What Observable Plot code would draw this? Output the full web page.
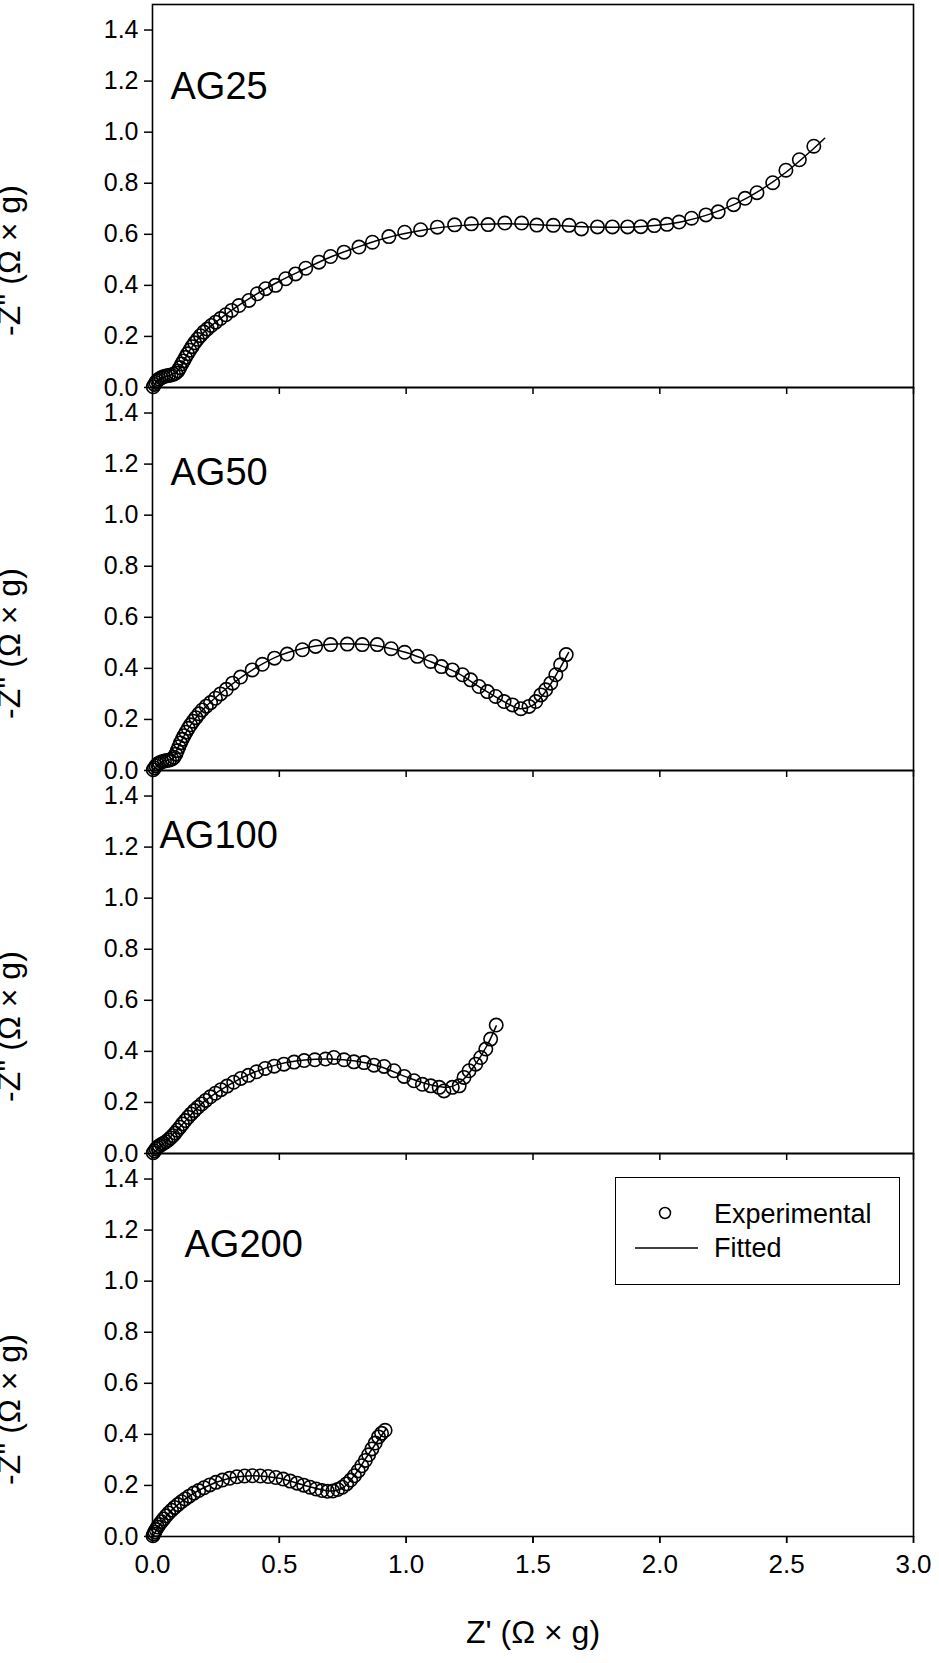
<!DOCTYPE html>
<html><head><meta charset="utf-8">
<script src="https://cdn.jsdelivr.net/npm/d3@7"></script>
<script src="https://cdn.jsdelivr.net/npm/@observablehq/plot@0.6"></script>
<style>
body{margin:0;background:#fff;}
#wrap{position:relative;width:939px;height:1663px;font-family:"Liberation Sans",Arial,sans-serif;}
#legend{position:absolute;left:615px;top:1177px;width:285px;height:108px;box-sizing:border-box;border:1.5px solid #000;background:#fff;}
#legend svg{position:absolute;left:0;top:0;}
</style></head><body><div id="wrap"></div>
<script>
const samples = ["AG25", "AG50", "AG100", "AG200"];
const xTicks = [0, 0.5, 1, 1.5, 2, 2.5, 3];
const yTicks = [0, 0.2, 0.4, 0.6, 0.8, 1.0, 1.2, 1.4];
const legendLabels = ["Experimental", "Fitted"];
const xTitle = "Z' (\u03A9 \u00D7 g)";
const yTitle = "-Z'' (\u03A9 \u00D7 g)";

const ag25Exp = [[0.003,0.003],[0.008,0.012],[0.013,0.020],[0.019,0.027],[0.026,0.033],[0.034,0.038],[0.043,0.042],[0.053,0.045],[0.063,0.047],[0.073,0.049],[0.083,0.052],[0.092,0.057],[0.100,0.065],[0.108,0.078],[0.115,0.092],[0.122,0.104],[0.130,0.118],[0.138,0.132],[0.147,0.146],[0.156,0.160],[0.166,0.175],[0.177,0.189],[0.189,0.203],[0.202,0.217],[0.216,0.229],[0.232,0.243],[0.249,0.256],[0.268,0.270],[0.289,0.285],[0.312,0.302],[0.341,0.321],[0.380,0.341],[0.413,0.367],[0.446,0.387],[0.485,0.400],[0.525,0.426],[0.564,0.445],[0.604,0.467],[0.656,0.491],[0.702,0.513],[0.755,0.530],[0.814,0.550],[0.867,0.569],[0.932,0.591],[0.994,0.608],[1.057,0.618],[1.123,0.628],[1.191,0.637],[1.257,0.641],[1.323,0.638],[1.389,0.644],[1.455,0.644],[1.515,0.636],[1.580,0.635],[1.642,0.635],[1.691,0.621],[1.754,0.629],[1.813,0.629],[1.873,0.629],[1.925,0.630],[1.978,0.634],[2.028,0.639],[2.076,0.648],[2.125,0.663],[2.182,0.676],[2.230,0.688],[2.291,0.716],[2.336,0.741],[2.383,0.763],[2.445,0.802],[2.497,0.851],[2.550,0.892],[2.607,0.945]];
const ag25Fit = [[0,0],[0.03,0.035],[0.07,0.048],[0.10,0.066],[0.15,0.150],[0.20,0.214],[0.30,0.294],[0.40,0.360],[0.50,0.416],[0.60,0.464],[0.70,0.510],[0.80,0.547],[0.90,0.580],[1.00,0.604],[1.10,0.622],[1.20,0.633],[1.30,0.639],[1.40,0.641],[1.50,0.638],[1.60,0.634],[1.70,0.630],[1.80,0.628],[1.90,0.629],[2.00,0.636],[2.10,0.652],[2.20,0.680],[2.30,0.720],[2.40,0.775],[2.50,0.845],[2.60,0.930],[2.65,0.976]];

const ag50Exp = [[0.003,0.003],[0.008,0.010],[0.014,0.018],[0.020,0.025],[0.028,0.030],[0.037,0.034],[0.047,0.037],[0.057,0.039],[0.067,0.041],[0.077,0.045],[0.085,0.052],[0.092,0.064],[0.098,0.078],[0.104,0.093],[0.110,0.108],[0.117,0.122],[0.124,0.136],[0.132,0.150],[0.141,0.165],[0.150,0.179],[0.160,0.193],[0.171,0.207],[0.183,0.222],[0.196,0.237],[0.212,0.252],[0.229,0.266],[0.248,0.283],[0.268,0.300],[0.291,0.318],[0.316,0.342],[0.347,0.366],[0.393,0.394],[0.433,0.416],[0.481,0.440],[0.531,0.456],[0.591,0.473],[0.643,0.486],[0.702,0.493],[0.768,0.495],[0.827,0.493],[0.886,0.493],[0.941,0.477],[0.994,0.463],[1.044,0.447],[1.097,0.427],[1.139,0.407],[1.182,0.394],[1.222,0.375],[1.254,0.355],[1.287,0.329],[1.320,0.309],[1.353,0.290],[1.386,0.270],[1.419,0.257],[1.452,0.242],[1.484,0.251],[1.511,0.270],[1.531,0.296],[1.550,0.316],[1.570,0.342],[1.590,0.375],[1.609,0.414],[1.631,0.454]];
const ag50Fit = [[0,0],[0.04,0.035],[0.08,0.046],[0.10,0.090],[0.15,0.178],[0.20,0.240],[0.30,0.328],[0.40,0.398],[0.50,0.450],[0.60,0.480],[0.70,0.494],[0.80,0.495],[0.90,0.486],[1.00,0.462],[1.10,0.425],[1.20,0.383],[1.30,0.320],[1.40,0.262],[1.45,0.242],[1.50,0.256],[1.55,0.310],[1.60,0.390],[1.64,0.462]];

const ag100Exp = [[0.003,0.003],[0.008,0.010],[0.014,0.018],[0.020,0.024],[0.027,0.030],[0.035,0.035],[0.044,0.040],[0.053,0.046],[0.062,0.053],[0.071,0.061],[0.080,0.070],[0.089,0.080],[0.098,0.091],[0.108,0.103],[0.118,0.116],[0.129,0.129],[0.140,0.142],[0.152,0.155],[0.165,0.168],[0.179,0.181],[0.194,0.194],[0.210,0.208],[0.228,0.222],[0.248,0.236],[0.270,0.250],[0.294,0.264],[0.320,0.279],[0.348,0.294],[0.378,0.306],[0.410,0.320],[0.444,0.333],[0.480,0.342],[0.518,0.350],[0.558,0.358],[0.598,0.364],[0.640,0.367],[0.682,0.370],[0.715,0.376],[0.755,0.367],[0.794,0.359],[0.834,0.356],[0.873,0.346],[0.913,0.341],[0.952,0.324],[0.992,0.302],[1.031,0.285],[1.064,0.271],[1.097,0.265],[1.130,0.259],[1.149,0.245],[1.182,0.259],[1.209,0.265],[1.228,0.298],[1.248,0.324],[1.274,0.350],[1.294,0.376],[1.314,0.409],[1.333,0.448],[1.355,0.503]];
const ag100Fit = [[0,0],[0.05,0.045],[0.10,0.095],[0.20,0.200],[0.30,0.268],[0.40,0.318],[0.50,0.350],[0.60,0.366],[0.70,0.370],[0.80,0.362],[0.90,0.340],[1.00,0.300],[1.10,0.268],[1.17,0.260],[1.22,0.285],[1.27,0.345],[1.32,0.425],[1.355,0.500]];

const ag200Exp = [[0.002,0.003],[0.005,0.010],[0.009,0.018],[0.014,0.027],[0.020,0.037],[0.027,0.047],[0.035,0.058],[0.044,0.069],[0.054,0.081],[0.064,0.092],[0.075,0.103],[0.087,0.114],[0.100,0.125],[0.114,0.136],[0.129,0.147],[0.145,0.158],[0.163,0.170],[0.182,0.180],[0.203,0.191],[0.226,0.202],[0.250,0.212],[0.276,0.221],[0.304,0.228],[0.333,0.234],[0.363,0.237],[0.394,0.238],[0.425,0.237],[0.456,0.235],[0.486,0.231],[0.515,0.225],[0.543,0.217],[0.570,0.209],[0.596,0.201],[0.621,0.193],[0.645,0.186],[0.668,0.180],[0.690,0.177],[0.711,0.178],[0.730,0.184],[0.748,0.193],[0.765,0.206],[0.781,0.221],[0.796,0.238],[0.811,0.257],[0.825,0.277],[0.839,0.298],[0.852,0.320],[0.865,0.343],[0.878,0.366],[0.891,0.390],[0.903,0.404],[0.917,0.416]];
const ag200Fit = [[0,0],[0.05,0.075],[0.10,0.125],[0.20,0.190],[0.30,0.227],[0.40,0.238],[0.50,0.228],[0.60,0.200],[0.70,0.178],[0.75,0.190],[0.80,0.245],[0.85,0.320],[0.92,0.420]];

const expBySample = {AG25: ag25Exp, AG50: ag50Exp, AG100: ag100Exp, AG200: ag200Exp};
const fitBySample = {AG25: ag25Fit, AG50: ag50Fit, AG100: ag100Fit, AG200: ag200Fit};
const expRows = samples.flatMap(s => expBySample[s].map(([x, y]) => ({s, x, y})));
const fitRows = samples.flatMap(s => fitBySample[s].map(([x, y]) => ({s, x, y})));

const labelOffsets = {AG25: [18, 68], AG50: [18, 71], AG100: [7, 51], AG200: [32, 77]};
const font = "'Liberation Sans', Arial, sans-serif";

const chart = Plot.plot({
  width: 939, height: 1663,
  marginLeft: 152, marginRight: 26, marginTop: 4, marginBottom: 127,
  style: {fontFamily: font, fontSize: "26px", color: "#000", background: "transparent", overflow: "visible"},
  x: {domain: [0, 3]},
  y: {domain: [0, 1.5]},
  fy: {domain: samples, padding: 0, axis: null, label: null},
  marks: [
    Plot.axisY({ticks: yTicks, tickFormat: d3.format(".1f"), tickSize: 8, tickPadding: 6, fontSize: 25, label: null, strokeWidth: 1.5}),
    Plot.axisX({ticks: xTicks, tickFormat: () => "", tickSize: 7, facetAnchor: null, label: null, strokeWidth: 1.5}),
    Plot.axisX({ticks: xTicks, tickFormat: d3.format(".1f"), tickSize: 7, tickPadding: 11, fontSize: 26, strokeWidth: 1.5, label: null}),
    Plot.text([samples[samples.length - 1]], {fy: d => d, text: () => xTitle, frameAnchor: "bottom",
      lineAnchor: "top", dy: 84, fontSize: 32}),
    Plot.text(samples, {fy: d => d, text: () => yTitle, frameAnchor: "left", rotate: -90,
      dx: -133, dy: 140, fontSize: 32, lineAnchor: "bottom"}),
    ...samples.map(s => Plot.text([s], {fy: d => d, text: d => d, frameAnchor: "top-left", textAnchor: "start",
      lineAnchor: "top", dx: labelOffsets[s][0], dy: labelOffsets[s][1], fontSize: 38})),
    Plot.line(fitRows, {x: "x", y: "y", fy: "s", stroke: "#000", strokeWidth: 1.5, curve: "catmull-rom"}),
    Plot.dot(expRows, {x: "x", y: "y", fy: "s", r: 6.7, stroke: "#000", strokeWidth: 1.6, fill: "none"}),
    Plot.frame({stroke: "#000", strokeWidth: 1.6})
  ]
});

const wrap = document.getElementById("wrap");
wrap.appendChild(chart);

const legend = document.createElement("div");
legend.id = "legend";
legend.innerHTML = `<svg width="285" height="108" font-family="${font.replace(/'/g, "")}" font-size="27">
  <circle cx="49" cy="35" r="5.5" fill="none" stroke="#000" stroke-width="1.5"></circle>
  <text x="98" y="45">${legendLabels[0]}</text>
  <line x1="19" x2="82" y1="70" y2="70" stroke="#000" stroke-width="1.5"></line>
  <text x="98" y="79">${legendLabels[1]}</text>
</svg>`;
wrap.appendChild(legend);
</script>
</body></html>
